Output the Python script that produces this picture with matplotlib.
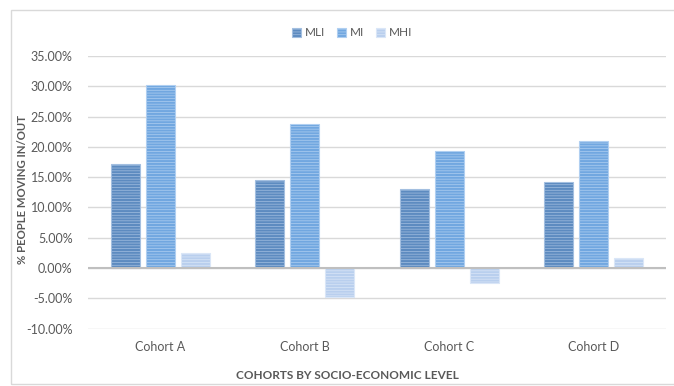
import matplotlib
matplotlib.use("Agg")
import matplotlib.pyplot as plt
import numpy as np
from matplotlib.patches import Rectangle
from matplotlib.ticker import FuncFormatter

# data
cohorts = ['Cohort A', 'Cohort B', 'Cohort C', 'Cohort D']
series = ['MLI', 'MI', 'MHI']
mli = [17.1, 14.5, 13.0, 14.2]
mi = [30.2, 23.8, 19.4, 21.0]
mhi = [2.5, -4.8, -2.5, 1.6]

colors = ['#5d8bc0', '#71a7e0', '#b9cfee']
stripes = ['#a3bfe0', '#b0cff1', '#dae6f7']
text_col = '#595959'

plt.rcParams['font.family'] = ['Lato', 'DejaVu Sans']
plt.rcParams['hatch.linewidth'] = 0.5

fig = plt.figure(figsize=(6.74, 3.86), dpi=100)
ax = fig.add_axes([88 / 674, (386 - 328.6) / 386, (666 - 88) / 674, (328.6 - 56) / 386])

x = np.arange(len(cohorts))
width = 0.2
step = 0.243
for i, (vals, name) in enumerate(zip([mli, mi, mhi], series)):
    ax.bar(x + (i - 1) * step, vals, width, color=colors[i], edgecolor=stripes[i],
           linewidth=0.8, hatch='------', label=name, zorder=3)

# axes
ax.set_xlim(-0.5, len(cohorts) - 0.5)
ax.set_ylim(-10, 35)
ax.set_yticks(np.arange(-10, 36, 5))
ax.yaxis.set_major_formatter(FuncFormatter(lambda v, p: '%.2f%%' % v))
ax.grid(axis='y', color='#d9d9d9', linewidth=1, zorder=0)
ax.axhline(0, color='#bfbfbf', linewidth=1.5, zorder=4)
for s in ax.spines.values():
    s.set_visible(False)
ax.tick_params(length=0, labelsize=9, colors=text_col)
ax.tick_params(axis='y', pad=11)
ax.tick_params(axis='x', pad=9)
ax.set_xticks(x)
ax.set_xticklabels(cohorts)

ax.set_ylabel('% PEOPLE MOVING IN/OUT', fontsize=8.2, fontweight='bold', color=text_col)
ax.set_xlabel('COHORTS BY SOCIO-ECONOMIC LEVEL', fontsize=8.5, fontweight='bold', color=text_col)
ax.xaxis.set_label_coords((347 - 88) / (666 - 88), -0.152)
ax.yaxis.set_label_coords(-0.104, (328.6 - 190) / 272.6)

fig.legend(loc='center', bbox_to_anchor=(352 / 674, 1 - 33 / 386), ncol=3, frameon=False,
           fontsize=8.5, handlelength=0.8, handleheight=0.8, handletextpad=0.3,
           columnspacing=1.0, labelcolor=text_col)

# chart border
fig.patches.append(Rectangle((11 / 674, 2 / 386), 1.0, 1 - 12 / 386, transform=fig.transFigure,
                             fill=False, edgecolor='#d9d9d9', linewidth=1))

fig.savefig('out.png', dpi=100)
